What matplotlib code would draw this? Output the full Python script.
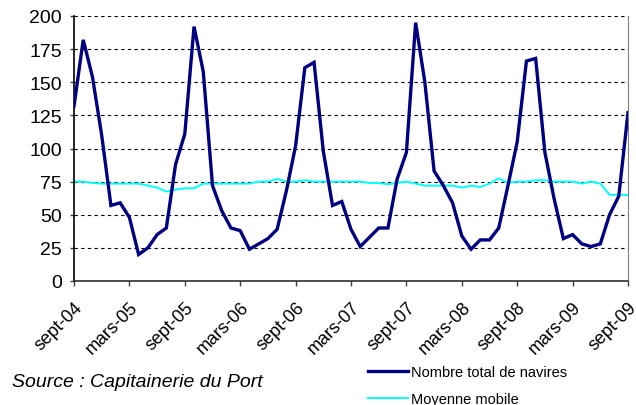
import numpy as np
import matplotlib
matplotlib.use('Agg')
import matplotlib.pyplot as plt
import matplotlib.transforms as mtransforms

# monthly data, sept-04 .. sept-09
navires = [132, 182, 154, 110, 57, 59, 48, 20, 25, 35, 40,
           88, 111, 192, 158, 72, 53, 40, 38, 24, 28,
           32, 39, 68, 102, 161, 165, 98, 57, 60, 39,
           26, 33, 40, 40, 77, 97, 195, 150, 83, 72,
           59, 34, 24, 31, 31, 40, 72, 105, 166, 168,
           97, 62, 32, 35, 28, 26, 28, 50, 64, 127]
moyenne = [75, 75, 74, 73.5, 73.5, 73.5, 73.5, 73.5, 72, 70.5, 67.5,
           69, 70, 70, 73.5, 73.5, 73.5, 73.5, 73.5, 73.5, 75,
           75, 77, 75, 75, 76, 75, 75, 75, 75, 75,
           75, 74, 74, 73, 74, 75, 73.5, 72, 72, 72,
           72, 70.5, 72, 71, 73.5, 77.5, 74, 75, 75, 76,
           76, 75, 75, 75, 73.5, 75, 73.5, 65, 65, 65]
tick_labels = ['sept-04', 'mars-05', 'sept-05', 'mars-06', 'sept-06', 'mars-07',
               'sept-07', 'mars-08', 'sept-08', 'mars-09', 'sept-09']

plt.rcParams['font.family'] = ['Liberation Sans', 'DejaVu Sans']

fig = plt.figure(figsize=(6.36, 4.06), dpi=100)
ax = fig.add_axes([74 / 636, 1 - 282 / 406, 554 / 636, 265 / 406])

months = np.arange(len(navires))
ax.plot(months, navires, color='#000080', lw=2.4, label='Nombre total de navires',
        solid_joinstyle='miter', zorder=3)
ax.plot(months, moyenne, color='#00FFFF', lw=1.4, label='Moyenne mobile', zorder=2)

ax.set_xlim(0, 60)
ax.set_ylim(0, 200)
ax.set_yticks(np.arange(0, 201, 25))
ax.yaxis.grid(True, color='black', linestyle=(0, (3, 3)), lw=0.8)
ax.set_axisbelow(True)

ax.set_xticks(np.arange(0, 61, 6))
ax.set_xticklabels(tick_labels, rotation=45, ha='right', va='top',
                   rotation_mode='anchor', fontsize=13)
offset = mtransforms.ScaledTranslation(-7 / 72, 0, fig.dpi_scale_trans)
for lab in ax.get_xticklabels():
    lab.set_transform(lab.get_transform() + offset)

ax.tick_params(axis='x', length=3.6, width=1, color='#404040', pad=9)
ax.tick_params(axis='y', length=3, width=1, color='#404040', pad=5.8, labelsize=14)

ax.spines['top'].set_visible(False)
ax.spines['right'].set_color('#808080')
ax.spines['left'].set_linewidth(1.2)
ax.spines['bottom'].set_linewidth(1.2)
ax.spines['bottom'].set_color('#303030')

fig.text(12 / 636, 1 - 383 / 406, 'Source : Capitainerie du Port', fontsize=14,
         style='italic', va='center', ha='left')

fig.legend(loc='upper left', bbox_to_anchor=(368 / 636, 1 - 366 / 406),
           frameon=False, borderpad=0, borderaxespad=0, handlelength=2.74,
           handletextpad=0.2, labelspacing=0.89, prop={'size': 10.5})

fig.savefig('out.png', dpi=100)
